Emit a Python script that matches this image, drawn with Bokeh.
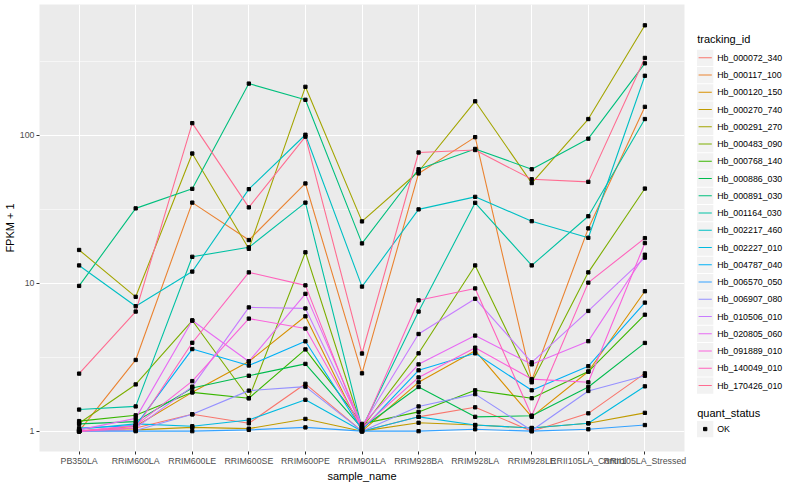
from bokeh.plotting import figure
from bokeh.models import Range1d, FactorRange, FixedTicker, PrintfTickFormatter
from bokeh.layouts import row
from bokeh.embed import file_html
from bokeh.resources import INLINE
from bokeh.core.properties import value

samples = ["PB350LA", "RRIM600LA", "RRIM600LE", "RRIM600SE", "RRIM600PE", "RRIM901LA",
           "RRIM928BA", "RRIM928LA", "RRIM928LE", "RRII105LA_Control", "RRII105LA_Stressed"]

tracking_ids = ["Hb_000072_340", "Hb_000117_100", "Hb_000120_150", "Hb_000270_740",
                "Hb_000291_270", "Hb_000483_090", "Hb_000768_140", "Hb_000886_030",
                "Hb_000891_030", "Hb_001164_030", "Hb_002217_460", "Hb_002227_010",
                "Hb_004787_040", "Hb_006570_050", "Hb_006907_080", "Hb_010506_010",
                "Hb_020805_060", "Hb_091889_010", "Hb_140049_010", "Hb_170426_010"]

# FPKM + 1 values, one list per gene, in sample order
hb_000072_340 = [1.00, 1.05, 1.30, 1.13, 2.09, 1.00, 1.25, 1.45, 1.00, 1.32, 2.46]
hb_000117_100 = [1.00, 3.03, 35.1, 19.6, 47.3, 2.46, 55.3, 97.3, 2.20, 23.5, 156]
hb_000120_150 = [1.00, 1.08, 1.83, 2.96, 5.98, 1.00, 2.14, 3.50, 1.25, 2.53, 8.83]
hb_000270_740 = [1.00, 1.02, 1.06, 1.04, 1.21, 1.00, 1.14, 1.10, 1.05, 1.13, 1.33]
hb_000291_270 = [16.8, 8.1, 75.4, 17.1, 213, 26.2, 57.0, 170, 47.6, 129, 555]
hb_000483_090 = [1.13, 2.07, 5.60, 1.67, 16.2, 1.05, 3.36, 13.2, 2.14, 11.85, 43.7]
hb_000768_140 = [1.17, 1.28, 1.83, 1.67, 3.57, 1.12, 1.35, 1.89, 1.67, 2.53, 6.13]
hb_000886_030 = [1.12, 1.16, 1.96, 2.37, 2.85, 1.05, 1.99, 1.25, 1.27, 1.99, 3.95]
hb_000891_030 = [9.6, 32.1, 43.5, 224, 174, 18.6, 59.0, 81.0, 59.0, 95.0, 307]
hb_001164_030 = [1.40, 1.47, 15.1, 17.5, 35.1, 1.05, 6.44, 35.0, 13.2, 28.4, 129]
hb_002217_460 = [13.2, 7.0, 12.0, 43.3, 101, 9.5, 31.6, 38.4, 26.3, 20.3, 253]
hb_002227_010 = [1.03, 1.12, 1.08, 1.19, 1.63, 1.00, 1.25, 1.10, 1.05, 1.13, 2.01]
hb_004787_040 = [1.05, 1.09, 3.59, 2.78, 4.05, 1.02, 2.58, 3.36, 1.89, 2.75, 7.40]
hb_006570_050 = [1.00, 1.00, 1.00, 1.02, 1.06, 1.00, 1.00, 1.03, 1.00, 1.03, 1.10]
hb_006907_080 = [1.00, 1.01, 1.30, 1.88, 2.00, 1.00, 1.47, 1.78, 1.01, 1.87, 2.37]
hb_010506_010 = [1.00, 1.05, 2.00, 6.87, 6.76, 1.08, 4.54, 7.86, 2.92, 6.50, 14.9]
hb_020805_060 = [1.02, 1.22, 5.60, 2.96, 8.48, 1.10, 2.83, 4.43, 2.83, 4.06, 15.6]
hb_091889_010 = [1.00, 1.09, 2.18, 5.77, 4.94, 1.05, 2.31, 3.67, 2.25, 2.14, 18.7]
hb_140049_010 = [1.00, 1.05, 3.96, 11.85, 9.68, 1.02, 7.67, 9.23, 1.27, 10.1, 20.2]
hb_170426_010 = [2.45, 6.44, 121, 32.6, 98.0, 3.35, 76.6, 79.6, 50.5, 48.5, 334]

series = [hb_000072_340, hb_000117_100, hb_000120_150, hb_000270_740, hb_000291_270,
          hb_000483_090, hb_000768_140, hb_000886_030, hb_000891_030, hb_001164_030,
          hb_002217_460, hb_002227_010, hb_004787_040, hb_006570_050, hb_006907_080,
          hb_010506_010, hb_020805_060, hb_091889_010, hb_140049_010, hb_170426_010]

quant_status = ["OK"]

colors = ["#F8766D", "#EA8331", "#D89000", "#C09B00", "#A3A500", "#7CAE00", "#39B600",
          "#00BB4E", "#00BF7D", "#00C1A3", "#00BFC4", "#00BAE0", "#00B0F6", "#35A2FF",
          "#9590FF", "#C77CFF", "#E76BF3", "#FA62DB", "#FF62BC", "#FF6C91"]

FONT = "Liberation Sans"
W_MAIN, W_LEG, H = 690, 94, 484
TOP, BOTTOM = 4, 33          # frame borders of the main plot (legend frame aligns to it)
FRAME_BOTTOM = H - BOTTOM

p = figure(width=W_MAIN, height=H,
           x_range=FactorRange(factors=samples, range_padding=0.2, range_padding_units="absolute"),
           y_axis_type="log", y_range=Range1d(10 ** -0.1375, 10 ** 2.885),
           output_backend="svg", toolbar_location=None,
           min_border_left=33, min_border_right=6, min_border_top=TOP, min_border_bottom=BOTTOM)
p.background_fill_color = "#EBEBEB"
p.border_fill_color = "white"
p.outline_line_color = None

p.yaxis.ticker = FixedTicker(ticks=[1, 10, 100], minor_ticks=[10 ** 0.5, 10 ** 1.5, 10 ** 2.5])
p.yaxis.formatter = PrintfTickFormatter(format="%d")
p.xgrid.grid_line_color = "white"
p.xgrid.grid_line_width = 1.1
p.ygrid.grid_line_color = "white"
p.ygrid.grid_line_width = 1.1
p.ygrid.minor_grid_line_color = "white"
p.ygrid.minor_grid_line_width = 0.55

for ax in (p.xaxis[0], p.yaxis[0]):
    ax.axis_line_color = None
    ax.major_tick_line_color = "#333333"
    ax.major_tick_out = 3
    ax.major_tick_in = 0
    ax.minor_tick_line_color = None
    ax.major_label_text_font = FONT
    ax.major_label_text_font_size = "8.8px"
    ax.major_label_text_color = "#4D4D4D"
    ax.major_label_standoff = 1
    ax.axis_label_text_font = FONT
    ax.axis_label_text_font_size = "11px"
    ax.axis_label_text_font_style = "normal"
    ax.axis_label_text_color = "black"
    ax.axis_label_standoff = 1
p.xaxis.axis_label = "sample_name"
p.yaxis.axis_label = "FPKM + 1"

for vals, col in zip(series, colors):
    p.line(x=samples, y=vals, line_color=col, line_width=1.1)
for vals in series:
    p.scatter(x=samples, y=vals, marker="square", size=3.3, color="black")

# legend panel drawn with glyphs; its frame is aligned with the main frame,
# so the y range is expressed in pixel rows of the layout
leg = figure(width=W_LEG, height=H, x_range=Range1d(0, W_LEG),
             y_range=Range1d(FRAME_BOTTOM, TOP),
             output_backend="svg", toolbar_location=None, min_border=0,
             min_border_top=TOP, min_border_bottom=BOTTOM,
             x_axis_location=None, y_axis_location=None)
leg.grid.visible = False
leg.outline_line_color = None
leg.background_fill_color = "white"
leg.border_fill_color = "white"

step = 17.25
first = 57.3
key_x = 14.7
centers = [first + i * step for i in range(len(tracking_ids))]
leg.rect(x=key_x, y=centers, width=16.3, height=16.3, fill_color="#F2F2F2", line_color=None)
leg.segment(x0=key_x - 6.6, x1=key_x + 6.6, y0=centers, y1=centers, line_color=colors, line_width=1.1)
leg.text(x=key_x + 12, y=centers, text=tracking_ids, text_font=value(FONT), text_font_size="8.8px",
         text_baseline="middle", text_color="black")

q_title_y = centers[-1] + 27
q_centers = [q_title_y + 16.5 + i * step for i in range(len(quant_status))]
leg.text(x=key_x - 8, y=[centers[0] - 19.3, q_title_y], text=["tracking_id", "quant_status"],
         text_font=value(FONT), text_font_size="11px", text_baseline="middle", text_color="black")
leg.rect(x=key_x, y=q_centers, width=16.3, height=16.3, fill_color="#F2F2F2", line_color=None)
leg.scatter(x=key_x, y=q_centers, marker="square", size=3.3, color="black")
leg.text(x=key_x + 12, y=q_centers, text=quant_status, text_font=value(FONT), text_font_size="8.8px",
         text_baseline="middle", text_color="black")

layout = row(p, leg)
open("out.html", "w").write(file_html(layout, INLINE))
